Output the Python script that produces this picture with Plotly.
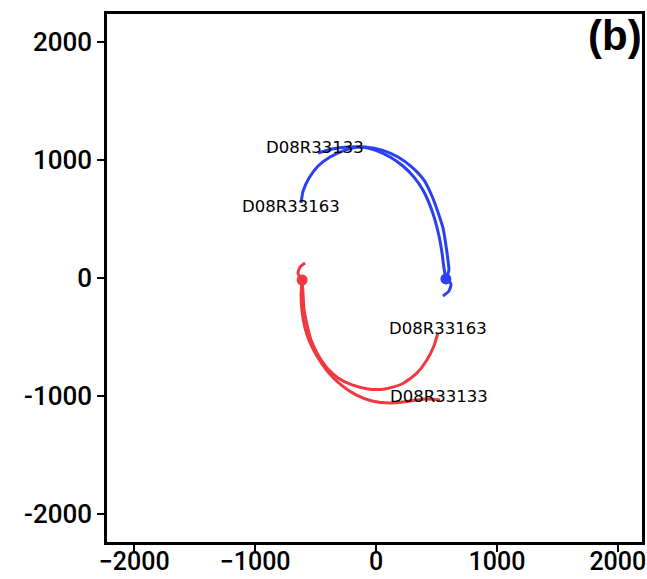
import plotly.graph_objects as go

# ---- data (data units) ----
blue_133_x = [578, 603, 595, 578, 554, 512, 463, 397, 297, 182, 50, -91, -231, -364, -479]
blue_133_y = [-8, 68, 152, 280, 424, 559, 695, 830, 940, 1025, 1084, 1110, 1110, 1093, 1059]

blue_163_x = [578, 562, 545, 521, 488, 446, 388, 314, 223, 116, -8, -132, -256, -380, -479, -554, -603, -620]
blue_163_y = [-8, 85, 220, 356, 491, 618, 745, 855, 949, 1025, 1084, 1110, 1084, 1025, 949, 847, 737, 635]

blue_hook_x = [578, 620, 603, 554]
blue_hook_y = [-8, -51, -110, -152]

red_163_x = [-611, -603, -595, -570, -537, -479, -405, -314, -198, -66, 74, 215, 331, 421, 479, 512]
red_163_y = [-17, -144, -271, -398, -525, -652, -762, -847, -906, -940, -940, -898, -813, -695, -576, -466]

red_133_x = [-611, -620, -611, -587, -545, -479, -397, -289, -165, -33, 116, 281, 421, 529]
red_133_y = [-17, -144, -288, -424, -551, -678, -796, -906, -991, -1042, -1059, -1042, -1025, -1034]

red_hook_x = [-611, -645, -628, -587]
red_hook_y = [-17, 42, 93, 127]

start_x = [578, -611]
start_y = [-8, -17]

label_text = ["D08R33133", "D08R33163", "D08R33163", "D08R33133"]
label_x = [-504, -702, 512, 521]
label_y = [1110, 610, -424, -1008]

tick_vals = [-2000, -1000, 0, 1000, 2000]
x_tick_text = ["\u22122000", "\u22121000", "0", "1000", "2000"]
y_tick_text = ["-2000", "-1000", "0", "1000", "2000"]

BLUE = "#2b40ee"
RED = "#ee3a3e"

fig = go.Figure()

def add_line(x, y, color):
    fig.add_trace(go.Scatter(x=x, y=y, mode="lines",
                             line=dict(color=color, width=3, shape="spline", smoothing=0.6),
                             showlegend=False, hoverinfo="skip"))

add_line(blue_133_x, blue_133_y, BLUE)
add_line(blue_163_x, blue_163_y, BLUE)
add_line(blue_hook_x, blue_hook_y, BLUE)
add_line(red_133_x, red_133_y, RED)
add_line(red_163_x, red_163_y, RED)
add_line(red_hook_x, red_hook_y, RED)

fig.add_trace(go.Scatter(x=start_x, y=start_y, mode="markers",
                         marker=dict(color=[BLUE, RED], size=11),
                         showlegend=False, hoverinfo="skip"))

for t, x, y in zip(label_text, label_x, label_y):
    fig.add_annotation(x=x, y=y, text=t, showarrow=False,
                       font=dict(family="DejaVu Sans", size=16.5, color="black"))

fig.add_annotation(x=1.0, y=1.0, xref="paper", yref="paper", xanchor="right", yanchor="top",
                   text="<b>(b)</b>", showarrow=False, yshift=4, xshift=2,
                   font=dict(family="Liberation Sans", size=42, color="black"))

axis_common = dict(showgrid=False, zeroline=False, showline=True, linecolor="black",
                   linewidth=2.5, mirror=True, ticks="outside", ticklen=7, tickwidth=2,
                   tickcolor="black", tickvals=tick_vals, automargin=False)

fig.update_xaxes(range=[-2225, 2200], ticktext=x_tick_text, ticklabelstandoff=-12,
                 tickfont=dict(family="Roboto", size=25, color="black", weight=500),
                 **axis_common)
fig.update_yaxes(range=[-2237, 2237], ticktext=y_tick_text,
                 tickfont=dict(family="Roboto", size=26, color="black", weight=500),
                 **axis_common)

fig.update_layout(width=647, height=579, margin=dict(l=107, r=5, t=14, b=37),
                  plot_bgcolor="white", paper_bgcolor="white")

fig.write_html("out.html")
